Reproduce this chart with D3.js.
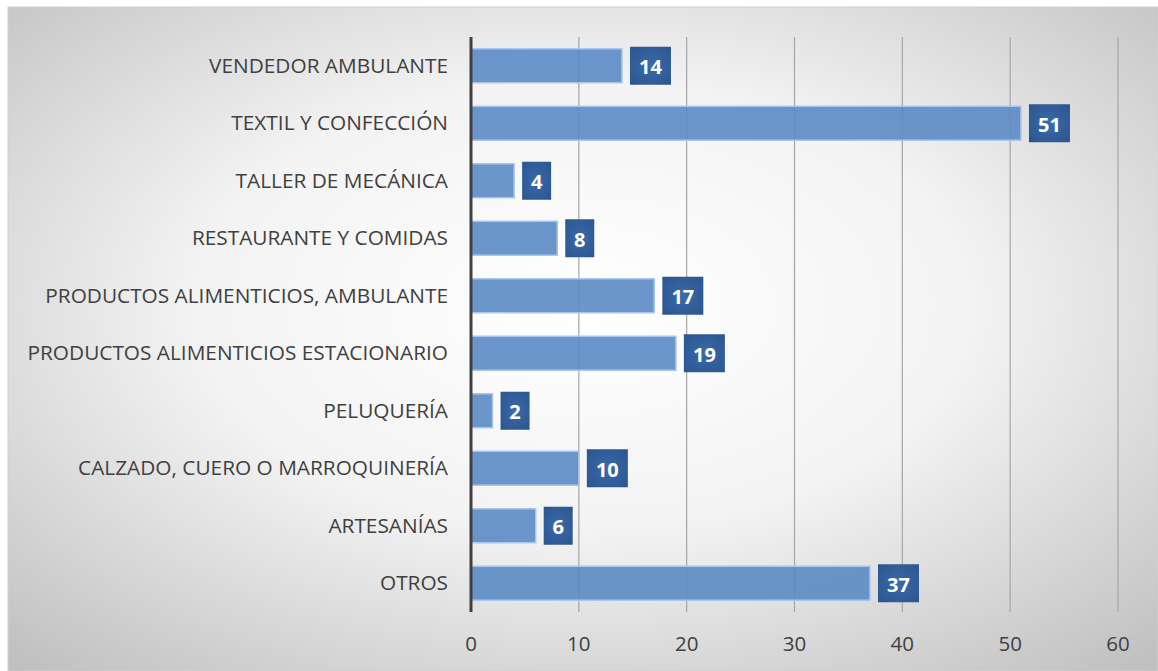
<!DOCTYPE html>
<html><head><meta charset="utf-8">
<script src="https://cdn.jsdelivr.net/npm/d3@7"></script>
<style>html,body{margin:0;padding:0;background:#fff;}svg{display:block;}</style>
</head><body>
<svg id="c" width="1158" height="671"></svg>
<script>
const categories = ["VENDEDOR AMBULANTE","TEXTIL Y CONFECCIÓN","TALLER DE MECÁNICA","RESTAURANTE Y COMIDAS","PRODUCTOS ALIMENTICIOS, AMBULANTE","PRODUCTOS ALIMENTICIOS ESTACIONARIO","PELUQUERÍA","CALZADO, CUERO O MARROQUINERÍA","ARTESANÍAS","OTROS"];
const values = [14,51,4,8,17,19,2,10,6,37];
const xTicks = [0,10,20,30,40,50,60];

const svg = d3.select("#c");
const defs = svg.append("defs");
const bg = defs.append("radialGradient").attr("id","bg").attr("cx","0.5").attr("cy","0.45").attr("r","0.75");
bg.append("stop").attr("offset","0").attr("stop-color","#ffffff");
bg.append("stop").attr("offset","0.45").attr("stop-color","#f3f3f3");
bg.append("stop").attr("offset","1").attr("stop-color","#bdbdbd");
const lb = defs.append("radialGradient").attr("id","lb").attr("cx","0.5").attr("cy","0.5").attr("r","0.7");
lb.append("stop").attr("offset","0").attr("stop-color","#3a6aa8");
lb.append("stop").attr("offset","1").attr("stop-color","#2b5590");

svg.append("rect").attr("x",8).attr("y",7).attr("width",1150).attr("height",664)
  .attr("fill","url(#bg)").attr("stroke","#d0d0d0").attr("stroke-width",1);

const m = {left:471, right:1118, top:37, bottom:612};
const x = d3.scaleLinear().domain([0,60]).range([m.left,m.right]);
const y = d3.scaleBand().domain(categories).range([m.top,m.bottom]).paddingInner(0.41).paddingOuter(0.205);

// gridlines
svg.append("g").selectAll("line").data(xTicks.filter(d=>d>0)).join("line")
  .attr("x1",d=>x(d)).attr("x2",d=>x(d)).attr("y1",m.top).attr("y2",m.bottom)
  .attr("stroke","#a6a6a6").attr("stroke-width",1.2);

// bars
svg.append("g").selectAll("rect").data(values).join("rect")
  .attr("x",x(0)).attr("y",(d,i)=>y(categories[i]))
  .attr("width",d=>x(d)-x(0)).attr("height",y.bandwidth())
  .attr("fill","#5b8bc6").attr("fill-opacity",0.9)
  .attr("stroke","#a9c5ea").attr("stroke-width",1.5);

// axis line
svg.append("line").attr("x1",x(0)).attr("x2",x(0)).attr("y1",m.top).attr("y2",m.bottom)
  .attr("stroke","#404040").attr("stroke-width",3);

// category labels
svg.append("g").selectAll("text").data(categories).join("text")
  .attr("x",x(0)-23).attr("y",d=>y(d)+y.bandwidth()/2-1)
  .attr("text-anchor","end").attr("dominant-baseline","central")
  .attr("font-family","Open Sans, sans-serif").attr("font-size",20.8).attr("fill","#404040")
  .text(d=>d);

// x tick labels
svg.append("g").selectAll("text").data(xTicks).join("text")
  .attr("x",d=>x(d)).attr("y",643)
  .attr("text-anchor","middle").attr("dominant-baseline","central")
  .attr("font-family","Open Sans, sans-serif").attr("font-size",20.5).attr("fill","#404040")
  .text(d=>d);

// value labels
const lg = svg.append("g").selectAll("g").data(values).join("g")
  .attr("transform",(d,i)=>`translate(${x(d)+8},${y(categories[i])+y.bandwidth()/2})`);
lg.append("rect").attr("x",0).attr("y",-19).attr("height",38)
  .attr("width",d=>String(d).length===1?29:41).attr("fill","url(#lb)");
lg.append("text").attr("x",d=>(String(d).length===1?29:41)/2).attr("y",1)
  .attr("text-anchor","middle").attr("dominant-baseline","central")
  .attr("font-family","Open Sans, sans-serif").attr("font-weight","bold").attr("font-size",20).attr("fill","#ffffff")
  .text(d=>d);
</script>
</body></html>
